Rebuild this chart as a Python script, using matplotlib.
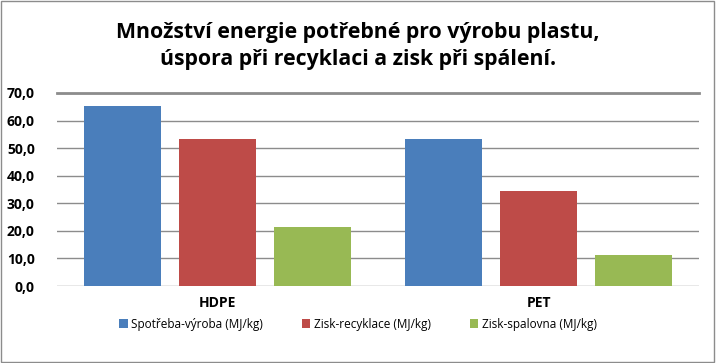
import matplotlib
matplotlib.use("Agg")
import matplotlib.pyplot as plt
import numpy as np
from matplotlib.patches import Rectangle

categories = ["HDPE", "PET"]
series_names = ["Spotřeba-výroba (MJ/kg)", "Zisk-recyklace (MJ/kg)", "Zisk-spalovna (MJ/kg)"]
spotreba = [65.3, 53.3]
recyklace = [53.2, 34.5]
spalovna = [21.4, 11.4]
colors = ["#4a7ebb", "#be4b48", "#98b954"]
yticks = [0, 10, 20, 30, 40, 50, 60, 70]
title = "Množství energie potřebné pro výrobu plastu,\núspora při recyklaci a zisk při spálení."

plt.rcParams['font.family'] = ['Open Sans', 'DejaVu Sans']

fig = plt.figure(figsize=(7.16, 3.63), dpi=100)
fig.patch.set_facecolor("white")
fig.add_artist(Rectangle((0.002, 0.003), 0.995, 0.993, transform=fig.transFigure,
                         fill=False, edgecolor="#8c8c8c", linewidth=1.0))

ax = fig.add_axes([57/716, 1-286/363, (699-57)/716, (286-93)/363])
x = np.arange(len(categories))
width = 0.237
step = 0.296
for i, (vals, name) in enumerate(zip([spotreba, recyklace, spalovna], series_names)):
    ax.bar(x + (i-1)*step, vals, width, color=colors[i], label=name, zorder=3)

ax.set_xlim(-0.5, 1.5)
ax.set_ylim(0, 70)
ax.set_yticks(yticks)
ax.set_yticklabels([f"{v:.1f}".replace(".", ",") for v in yticks], fontsize=10, fontweight="bold")
ax.set_xticks(x)
ax.set_xticklabels(categories, fontsize=10, fontweight="bold")
ax.tick_params(axis="x", length=0, pad=7)
ax.tick_params(axis="y", length=0, pad=16)
for s in ["left", "right", "bottom"]:
    ax.spines[s].set_visible(False)
ax.spines["top"].set_color("#8c8c8c")
ax.spines["top"].set_linewidth(2.0)
ax.yaxis.grid(True, color="#8c8c8c", linewidth=1.0, zorder=0)
ax.set_axisbelow(True)

fig.text(0.5, 0.94, title, ha="center", va="top", fontsize=15.3, fontweight="bold",
         linespacing=1.4)

leg = fig.legend(loc="center", bbox_to_anchor=(0.5, 0.107), ncol=3, frameon=False,
                 fontsize=8.5, handlelength=0.7, handleheight=0.7, handletextpad=0.3,
                 columnspacing=3.3)

fig.savefig("out.png", dpi=100)
